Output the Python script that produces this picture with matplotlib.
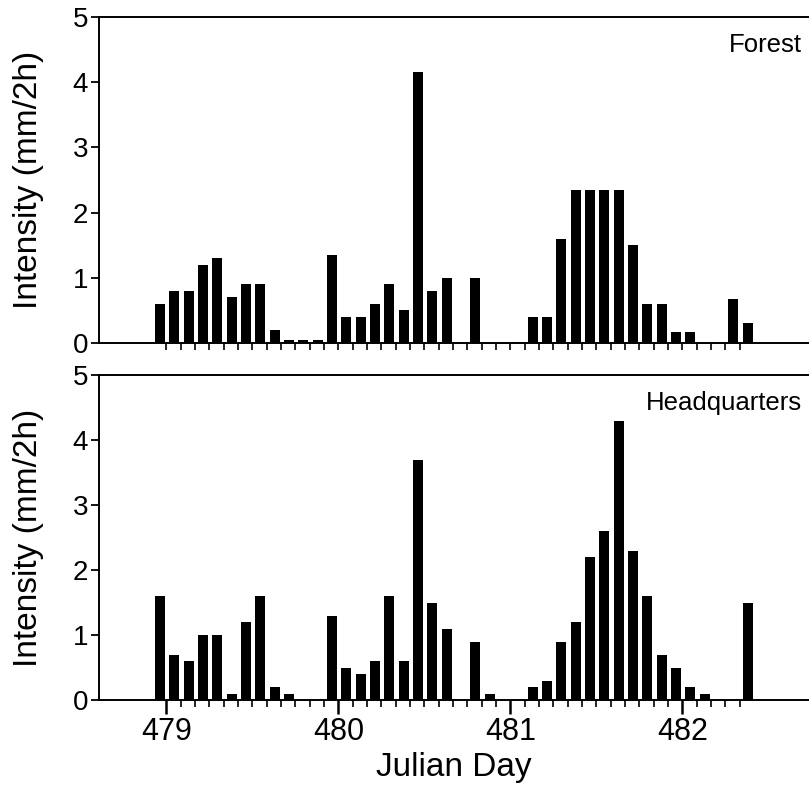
import numpy as np
import matplotlib
matplotlib.use("Agg")
import matplotlib.pyplot as plt

# 2-hour rainfall intensity (mm/2h), one value per interval, interval end at 479 + k/12
start_day = 479.0
interval_h = 2
forest = [0.6, 0.8, 0.8, 1.2, 1.3, 0.7, 0.9, 0.9, 0.2, 0.04, 0.04, 0.04,
          1.35, 0.4, 0.4, 0.6, 0.9, 0.5, 4.15, 0.8, 1.0, 0.0, 1.0, 0.0,
          0.0, 0.02, 0.4, 0.4, 1.6, 2.35, 2.35, 2.35, 2.35, 1.5, 0.6, 0.6,
          0.17, 0.17, 0.0, 0.0, 0.67, 0.3]
headquarters = [1.6, 0.7, 0.6, 1.0, 1.0, 0.1, 1.2, 1.6, 0.2, 0.1, 0.0, 0.0,
                1.3, 0.5, 0.4, 0.6, 1.6, 0.6, 3.7, 1.5, 1.1, 0.0, 0.9, 0.1,
                0.0, 0.0, 0.2, 0.3, 0.9, 1.2, 2.2, 2.6, 4.3, 2.3, 1.6, 0.7,
                0.5, 0.2, 0.1, 0.0, 0.0, 1.5]
panel_names = ["Forest", "Headquarters"]
major_days = [479, 480, 481, 482]

plt.rcParams["font.family"] = ["Liberation Sans", "DejaVu Sans"]

days = start_day + np.arange(len(forest)) * interval_h / 24.0
minor_days = np.arange(479, 482.34, 1 / 12)

fig = plt.figure(figsize=(8.09, 7.89), dpi=100)
ax1 = fig.add_axes([0.1224, 0.5653, 0.8776, 0.4132])
ax2 = fig.add_axes([0.1224, 0.1128, 0.8776, 0.4119])

for ax, vals, name in zip([ax1, ax2], [forest, headquarters], panel_names):
    ax.bar(days - 0.067, vals, width=0.058, align="edge", color="black", linewidth=0)
    ax.set_xlim(478.608, 482.736)
    ax.set_ylim(0, 5)
    ax.set_yticks([0, 1, 2, 3, 4, 5])
    ax.spines["right"].set_visible(False)
    for s in ["left", "bottom", "top"]:
        ax.spines[s].set_linewidth(1.4)
    ax.tick_params(axis="y", direction="out", length=6, width=1.3, labelsize=20, pad=2)
    ax.set_ylabel("Intensity (mm/2h)", fontsize=24)
    ax.yaxis.set_label_coords(-0.077, 0.5)
    ax.text(0.99, 0.914, name, transform=ax.transAxes,
            ha="right", va="center", fontsize=18.5)

# top panel: only small ticks, no labels
ax1.set_xticks(minor_days)
ax1.set_xticklabels([])
ax1.tick_params(axis="x", direction="out", length=5, width=1.2)

# bottom panel: labelled day ticks plus small 2-hour ticks
ax2.set_xticks(major_days)
ax2.set_xticklabels([str(d) for d in major_days])
ax2.set_xticks(minor_days, minor=True)
ax2.tick_params(axis="x", which="major", direction="out", length=10, width=1.8, labelsize=22, pad=2)
ax2.tick_params(axis="x", which="minor", direction="out", length=5, width=1.2)
ax2.set_xlabel("Julian Day", fontsize=24, labelpad=4)

fig.savefig("out.png", dpi=100)
